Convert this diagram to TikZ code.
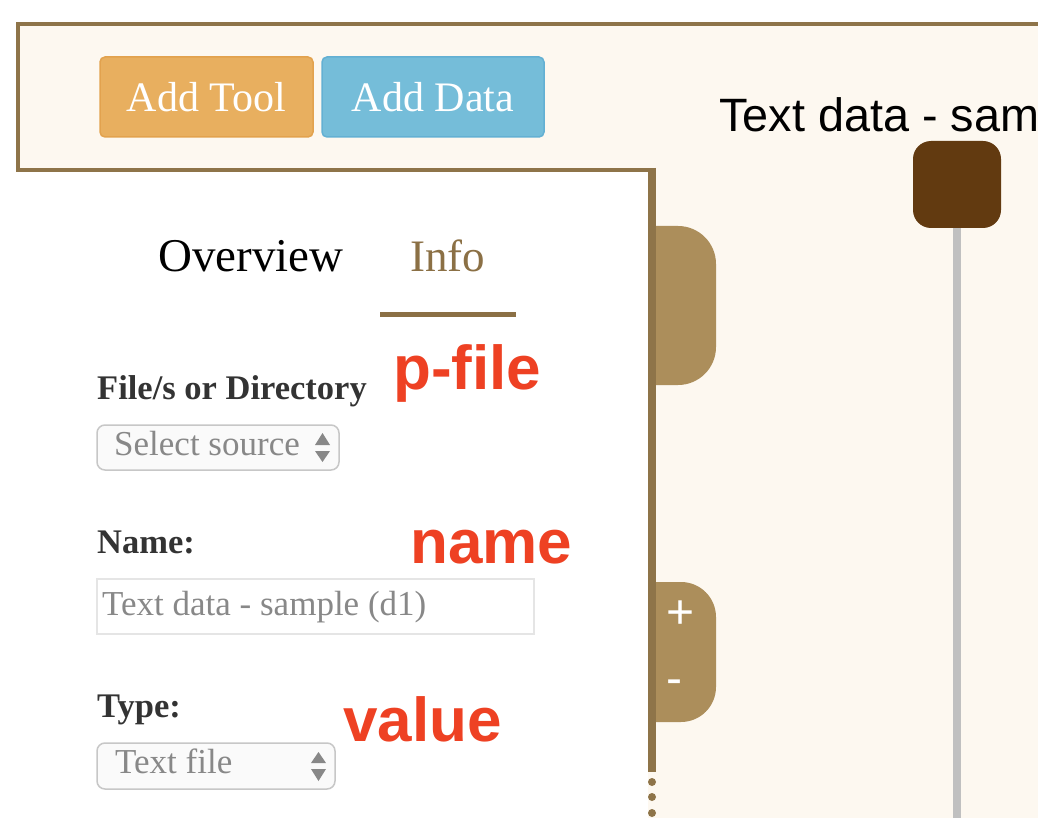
\documentclass[tikz,border=0pt]{standalone}
\usepackage{fontspec}
\setmainfont{Liberation Serif}
\newfontfamily\notefont{Liberation Sans}
\usetikzlibrary{positioning}

\definecolor{frame}{HTML}{8E7449}
\definecolor{tabfill}{HTML}{AC8E5B}
\definecolor{cream}{HTML}{FDF8F0}
\definecolor{toolfill}{HTML}{E8AF5F}
\definecolor{tooledge}{HTML}{E2A24E}
\definecolor{datafill}{HTML}{75BDD9}
\definecolor{dataedge}{HTML}{63B0D3}
\definecolor{nodebrown}{HTML}{623A10}
\definecolor{stemgray}{HTML}{C0C0C0}
\definecolor{notered}{HTML}{EE4123}
\definecolor{labeldark}{HTML}{333333}
\definecolor{hintgray}{HTML}{888888}
\definecolor{infobrown}{HTML}{8B7045}

\tikzset{
  btn/.style={rounded corners=5, line width=1.5, text=white, minimum height=80,
    inner sep=0, font=\fontsize{42}{48}\selectfont},
  txt/.style={anchor=base west, inner sep=0},
  fieldlabel/.style={txt, text=labeldark, font=\fontsize{34.5}{40}\selectfont\bfseries},
  hint/.style={txt, text=hintgray, font=\fontsize{35}{42}\selectfont},
  note/.style={txt, text=notered, font=\fontsize{62}{70}\selectfont\notefont\bfseries},
  selbox/.style={draw=black!22, fill=black!2, rounded corners=8, line width=1.5},
  updown/.style={fill=hintgray},
}

\begin{document}
\begin{tikzpicture}[x=1pt,y=-1pt]
	\useasboundingbox[fill=white] (0,0) rectangle (1038,818);
	% canvas and panels
	\fill[cream] (16,22) rectangle (1038,818);
	\fill[white] (0,172) rectangle (648,818);
	\fill[tabfill] (656,226) [rounded corners=38] -- (716,226) -- (716,385) [sharp corners] -- (656,385) -- cycle;
	\fill[tabfill] (656,582) [rounded corners=35] -- (716,582) -- (716,722) [sharp corners] -- (656,722) -- cycle;
	\draw[frame, line width=4] (1038,24) -- (17.5,24) -- (17.5,170) -- (656,170);
	\draw[frame, line width=8] (652,168) -- (652,772);
	\foreach \y in {782,797,813}
		\fill[frame] (652,\y) circle (4);
	\node[text=white, inner sep=0, font=\fontsize{48}{50}\selectfont\notefont] (zoomin) at (681,615) {+};
	\node[text=white, inner sep=0, font=\fontsize{48}{50}\selectfont\notefont] (zoomout) at (674,687) {-};

	% toolbar
	\node[btn, fill=toolfill, draw=tooledge, minimum width=213] (addtool) at (206.5,97) {Add Tool};
	\node[btn, fill=datafill, draw=dataedge, minimum width=222] (adddata) at (433,97) {Add Data};

	% tabs
	\node[txt, font=\fontsize{47}{52}\selectfont] (taboverview) at (158,272) {Overview};
	\node[txt, text=infobrown, font=\fontsize{45}{52}\selectfont] (tabinfo) at (410,272) {Info};
	\fill[infobrown] (380,312) rectangle (516,317);

	% form fields
	\node[fieldlabel] (lblfile) at (97,399) {File/s or Directory};
	\node[note] (pfile) at (393,389) {p-file};
	\draw[selbox] (97,425) rectangle (339,470);
	\node[hint] (selsource) at (114,455) {Select source};
	\fill[updown] (315,445) -- (322.5,433) -- (330,445) -- cycle;
	\fill[updown] (315,451) -- (322.5,462) -- (330,451) -- cycle;

	\node[fieldlabel] (lblname) at (97,553) {Name:};
	\node[note] (namenote) at (410,563) {name};
	\draw[black!10, fill=white, line width=1.5] (97,579) rectangle (534,634);
	\node[hint] (nameinput) at (102,615) {Text data - sample (d1)};

	\node[fieldlabel] (lbltype) at (97,717) {Type:};
	\node[note] (valuenote) at (343,741) {value};
	\draw[selbox] (97,743) rectangle (335,789);
	\node[hint] (seltype) at (115,773) {Text file};
	\fill[updown] (311,763) -- (318.5,752) -- (326,763) -- cycle;
	\fill[updown] (311,769) -- (318.5,781) -- (326,769) -- cycle;

	% data node
	\node[txt, font=\fontsize{46.8}{52}\selectfont\notefont] (datatitle) at (719,132) {Text data - sam};
	\node[fill=nodebrown, rounded corners=18, minimum width=88, minimum height=87, inner sep=0] (datanode) at (957,184.5) {};
	\coordinate (stemend) at (957,818);
	\draw[stemgray, line width=8] (datanode.south) -- (stemend);
\end{tikzpicture}
\end{document}
